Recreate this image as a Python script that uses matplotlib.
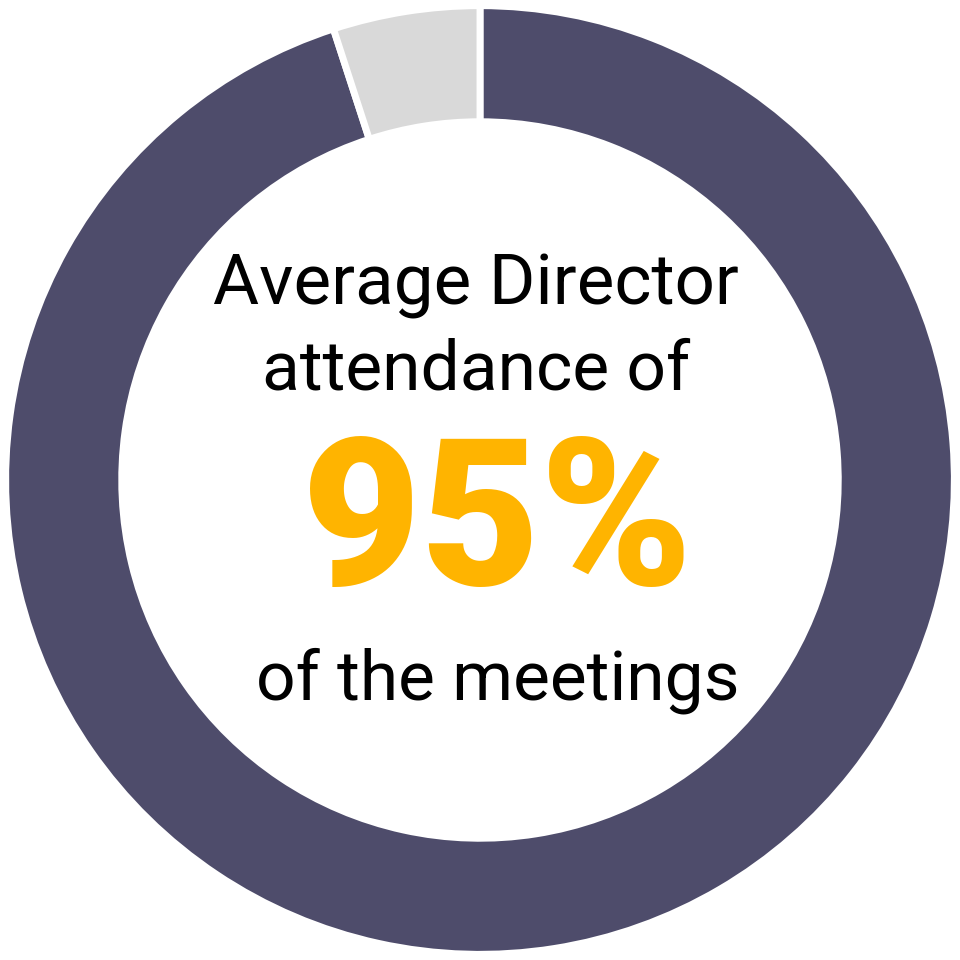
import matplotlib
matplotlib.use('Agg')
from matplotlib import pyplot as plt

values = [95, 5]
colors = ['#4E4C6B', '#D9D9D9']
line1 = 'Average Director'
line2 = 'attendance of'
big_value = '95%'
line3 = 'of the meetings'

plt.rcParams['font.family'] = ['Roboto', 'DejaVu Sans']

fig = plt.figure(figsize=(9.6, 9.6), dpi=100)
ax = fig.add_axes([0, 0, 1, 1])
ax.pie(values, colors=colors, startangle=90, counterclock=False,
       radius=1.005, wedgeprops=dict(width=0.246, edgecolor='white', linewidth=5))
lim = 480 / 472
ax.set_xlim(-lim, lim)
ax.set_ylim(-lim, lim)
ax.set_aspect('equal')
ax.axis('off')

# текст в центре
ax.text(-0.008, 0.371, line1, ha='center', va='baseline', fontsize=51, color='black')
ax.text(-0.008, 0.191, line2, ha='center', va='baseline', fontsize=50, color='black')
ax.text(0.036, -0.222, big_value, ha='center', va='baseline', fontsize=148,
        fontweight='black', color='#FFB400')
ax.text(0.038, -0.466, line3, ha='center', va='baseline', fontsize=50, color='black')

plt.savefig('out.png', dpi=100)
